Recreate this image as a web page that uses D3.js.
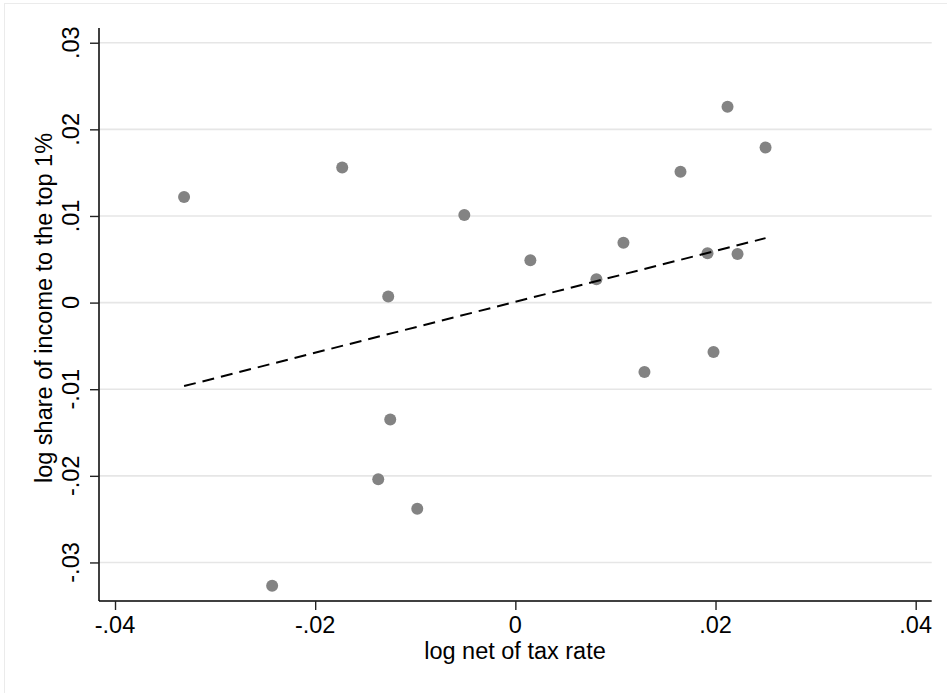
<!DOCTYPE html>
<html>
<head>
<meta charset="utf-8">
<script src="https://cdn.jsdelivr.net/npm/d3@7"></script>
<style>
  body { margin: 0; background: #fff; }
  text { font-family: "Liberation Sans", Arial, sans-serif; }
</style>
</head>
<body>
<div id="chart"></div>
<script>
// values
var netTax = [-0.0331, -0.0173, -0.0051, -0.0127, -0.0125, -0.0137, -0.0098, -0.0243,
              0.0015, 0.0081, 0.0108, 0.0129, 0.0165, 0.0192, 0.0198, 0.0212, 0.0222, 0.0250]
var topShare = [0.0122, 0.0156, 0.0101, 0.0007, -0.0135, -0.0204, -0.0238, -0.0327,
                0.0049, 0.0027, 0.0069, -0.0080, 0.0151, 0.0057, -0.0057, 0.0226, 0.0056, 0.0179]
var fitX = [-0.0331, 0.0250]
var fitY = [-0.00964, 0.00744]
var xTicks = [-0.04, -0.02, 0, 0.02, 0.04]
var yTicks = [-0.03, -0.02, -0.01, 0, 0.01, 0.02, 0.03]

var width = 947, height = 693

var svg = d3.select("#chart").append("svg")
    .attr("width", width)
    .attr("height", height)

// faint outer frame
svg.append("rect")
    .attr("x", 4.5).attr("y", 3.5)
    .attr("width", 960).attr("height", 720)
    .attr("fill", "none")
    .attr("stroke", "#ebebeb")
    .attr("stroke-width", 1)

var x = d3.scaleLinear().domain([-0.0416, 0.0416]).range([99, 931.7])
var y = d3.scaleLinear().domain([-0.03445, 0.0317]).range([601, 28])

// stata style labels: ".03", "-.02", "0"
function fmt(v) {
  if (Math.abs(v) < 1e-9) return "0"
  return d3.format(".2f")(v).replace("\u2212", "-").replace("0.", ".")
}

// grid
svg.append("g").selectAll("line")
    .data(yTicks).enter().append("line")
    .attr("x1", x.range()[0]).attr("x2", x.range()[1])
    .attr("y1", function(d) { return y(d) })
    .attr("y2", function(d) { return y(d) })
    .attr("stroke", "#e6e6e6")
    .attr("stroke-width", 1.6)

// y axis
var yAxis = svg.append("g")
    .attr("transform", "translate(" + x.range()[0] + ",0)")
    .call(d3.axisLeft(y).tickValues(yTicks).tickSize(9).tickFormat(""))
yAxis.select(".domain").attr("stroke", "#000").attr("stroke-width", 1.5)
    .attr("d", "M0," + y.range()[1] + "V" + y.range()[0])
yAxis.selectAll(".tick line").attr("stroke", "#222").attr("stroke-width", 1.4)

svg.append("g").selectAll("text")
    .data(yTicks).enter().append("text")
    .attr("transform", function(d) { return "translate(79," + y(d) + ") rotate(-90)" })
    .attr("text-anchor", "middle")
    .attr("font-size", 23.5)
    .attr("fill", "#000")
    .text(fmt)

// x axis
var xAxis = svg.append("g")
    .attr("transform", "translate(0," + y.range()[0] + ")")
    .call(d3.axisBottom(x).tickValues(xTicks).tickSize(9).tickFormat(""))
xAxis.select(".domain").attr("stroke", "#000").attr("stroke-width", 1.5)
    .attr("d", "M" + x.range()[0] + ",0H" + x.range()[1])
xAxis.selectAll(".tick line").attr("stroke", "#222").attr("stroke-width", 1.4)

svg.append("g").selectAll("text")
    .data(xTicks).enter().append("text")
    .attr("x", function(d) { return x(d) })
    .attr("y", 633)
    .attr("text-anchor", "middle")
    .attr("font-size", 23.5)
    .attr("fill", "#000")
    .text(fmt)

// axis titles
svg.append("text")
    .attr("x", 515).attr("y", 659)
    .attr("text-anchor", "middle")
    .attr("font-size", 23.5)
    .text("log net of tax rate")

svg.append("text")
    .attr("transform", "translate(52,308) rotate(-90)")
    .attr("text-anchor", "middle")
    .attr("font-size", 23.5)
    .text("log share of income to the top 1%")

// points
var points = netTax.map(function(v, i) { return { x: v, y: topShare[i] } })

svg.append("g").selectAll("circle")
    .data(points).enter().append("circle")
    .attr("cx", function(d) { return x(d.x) })
    .attr("cy", function(d) { return y(d.y) })
    .attr("r", 6)
    .attr("fill", "#838383")

// fitted line
var line = d3.line()
    .x(function(d) { return x(d[0]) })
    .y(function(d) { return y(d[1]) })

svg.append("path")
    .datum(fitX.map(function(v, i) { return [v, fitY[i]] }))
    .attr("d", line)
    .attr("fill", "none")
    .attr("stroke", "#000")
    .attr("stroke-width", 2)
    .attr("stroke-dasharray", "12,7")
</script>
</body>
</html>
